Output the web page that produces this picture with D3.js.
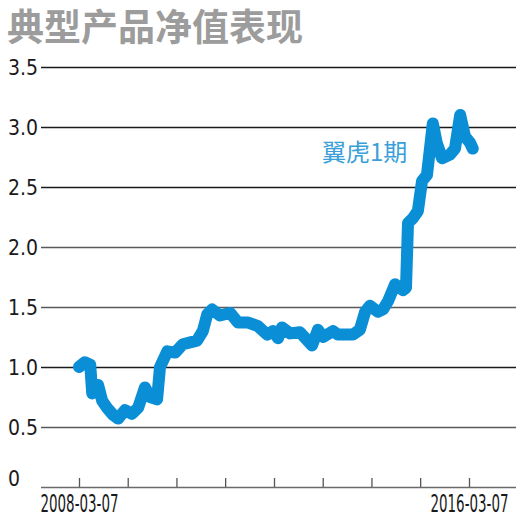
<!DOCTYPE html>
<html>
<head>
<meta charset="utf-8">
<script src="https://cdn.jsdelivr.net/npm/d3@7"></script>
<style>
  html, body { margin: 0; padding: 0; background: #fff; }
  svg { display: block; }
</style>
</head>
<body>
<svg id="chart" width="523" height="523"></svg>
<script>
// ---- data ----
const title = "典型产品净值表现";
const seriesName = "翼虎1期";
const dates = [
  "2008-03-07","2008-04-20","2008-05-30","2008-06-14","2008-07-28","2008-08-27","2008-10-03","2008-11-18",
  "2008-12-25","2009-02-14","2009-04-08","2009-05-24","2009-07-14","2009-08-21","2009-10-13","2009-11-04",
  "2009-12-29","2010-02-25","2010-04-24","2010-08-08","2010-09-21","2010-10-24","2010-11-29","2011-01-27",
  "2011-04-14","2011-06-11","2011-08-27","2011-11-08","2012-01-16","2012-03-01","2012-04-06","2012-05-05",
  "2012-07-05","2012-09-17","2012-12-17","2013-01-30","2013-03-11","2013-05-23","2013-06-29","2013-10-19",
  "2013-12-10","2014-01-19","2014-02-24","2014-04-24","2014-06-02","2014-07-10","2014-08-31","2014-10-30",
  "2014-11-21","2014-12-06","2015-01-12","2015-02-18","2015-03-21","2015-04-27","2015-06-10","2015-07-09",
  "2015-08-18","2015-10-16","2015-11-23","2016-01-01","2016-02-06","2016-03-14","2016-04-04"
];
const navValues = [
  1.00,1.04,1.02,0.78,0.85,0.72,0.66,0.60,
  0.57,0.64,0.61,0.66,0.83,0.75,0.73,1.00,
  1.13,1.12,1.19,1.22,1.30,1.44,1.48,1.43,
  1.45,1.37,1.37,1.34,1.27,1.30,1.24,1.33,
  1.28,1.29,1.18,1.31,1.25,1.30,1.27,1.27,
  1.31,1.46,1.51,1.46,1.48,1.55,1.69,1.64,
  1.66,2.20,2.24,2.30,2.55,2.60,3.03,2.87,
  2.74,2.77,2.82,3.10,2.92,2.87,2.82
];
const yTicks = [0, 0.5, 1.0, 1.5, 2.0, 2.5, 3.0, 3.5];
const yTickLabels = ["0", "0.5", "1.0", "1.5", "2.0", "2.5", "3.0", "3.5"];
const xTickDates = ["2008-03-07","2009-03-07","2010-03-07","2011-03-07","2012-03-07",
                    "2013-03-07","2014-03-07","2015-03-07","2016-03-07"];
const xTickLabels = ["2008-03-07","","","","","","","","2016-03-07"];

// ---- layout ----
const parse = d3.timeParse("%Y-%m-%d");
const svg = d3.select("#chart");
const plotLeft = 41, plotRight = 516;

const x = d3.scaleTime()
  .domain([parse(xTickDates[0]), parse(xTickDates[xTickDates.length - 1])])
  .range([79, 469]);
const y = d3.scaleLinear().domain([0, 3.5]).range([487, 67]);

const labelFont = "'Liberation Sans Narrow', 'Arial Narrow', 'DejaVu Sans Condensed', sans-serif";

// title
svg.append("text")
  .attr("x", 7).attr("y", 41)
  .attr("font-family", "'Noto Sans CJK SC', sans-serif")
  .attr("font-weight", 700)
  .attr("font-size", 37)
  .attr("fill", "#9c9c9c")
  .text(title);

// gridlines (not at 0)
svg.append("g").selectAll("line")
  .data(yTicks.filter(d => d > 0))
  .join("line")
  .attr("x1", plotLeft).attr("x2", plotRight)
  .attr("y1", d => Math.round(y(d)) + 0.5).attr("y2", d => Math.round(y(d)) + 0.5)
  .attr("stroke", d => (d >= 2.5 || d === 1.0) ? "#1a1a1a" : "#5a5a5a")
  .attr("stroke-width", 1.3);

// y labels
svg.append("g").selectAll("text")
  .data(yTicks)
  .join("text")
  .attr("x", 8)
  .attr("y", d => d === 0 ? y(d) - 1 : y(d) + 8)
  .attr("font-family", labelFont)
  .attr("font-size", 21)
  .attr("fill", "#1a1a1a")
  .text((d, i) => yTickLabels[i]);

// x axis
const xAxis = d3.axisBottom(x)
  .tickValues(xTickDates.map(parse))
  .tickSize(9)
  .tickFormat((d, i) => xTickLabels[i]);
const gx = svg.append("g").attr("transform", "translate(0,487)").call(xAxis);
gx.select(".domain").remove();
gx.selectAll(".tick line")
  .attr("y1", 0).attr("y2", -9)
  .attr("stroke", "#555").attr("stroke-width", 1.3);
gx.selectAll(".tick text")
  .attr("y", 25).attr("dy", 0)
  .attr("font-family", labelFont)
  .attr("font-size", 24)
  .attr("fill", "#1a1a1a")
  .attr("textLength", function() { return this.textContent ? 78 : null; })
  .attr("lengthAdjust", "spacingAndGlyphs");
gx.append("line")
  .attr("x1", plotLeft).attr("x2", plotRight)
  .attr("y1", 0.5).attr("y2", 0.5)
  .attr("stroke", "#6a6a6a").attr("stroke-width", 1.5);

// series line
const data = dates.map((d, i) => ({ date: parse(d), value: navValues[i] }));
const line = d3.line().x(d => x(d.date)).y(d => y(d.value)).curve(d3.curveLinear);
svg.append("path")
  .datum(data)
  .attr("d", line)
  .attr("fill", "none")
  .attr("stroke", "#0a8fd6")
  .attr("stroke-width", 12)
  .attr("stroke-linejoin", "round")
  .attr("stroke-linecap", "round");

// series label
svg.append("text")
  .attr("x", 322).attr("y", 161)
  .attr("font-family", "'Noto Sans CJK SC', sans-serif")
  .attr("font-size", 24)
  .attr("fill", "#3a9fd8")
  .text(seriesName);
</script>
</body>
</html>
